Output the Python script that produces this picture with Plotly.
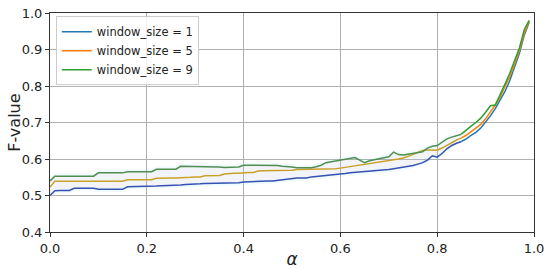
import plotly.graph_objects as go
import numpy as np

# alpha grid (0.00 .. 0.99)
alpha = [round(i * 0.01, 2) for i in range(100)]

f_w1 = [0.500, 0.513, 0.514, 0.514, 0.514, 0.520, 0.520, 0.520, 0.520, 0.520,
        0.517, 0.517, 0.517, 0.517, 0.517, 0.517, 0.524, 0.524, 0.524, 0.524,
        0.524, 0.524, 0.526, 0.527, 0.527, 0.527, 0.527, 0.529, 0.530, 0.530,
        0.530, 0.532, 0.533, 0.533, 0.533, 0.533, 0.535, 0.535, 0.535, 0.535,
        0.537, 0.538, 0.538, 0.538, 0.540, 0.540, 0.540, 0.542, 0.544, 0.546,
        0.547, 0.548, 0.548, 0.548, 0.551, 0.552, 0.553, 0.555, 0.557, 0.558,
        0.559, 0.560, 0.562, 0.563, 0.564, 0.565, 0.566, 0.567, 0.568, 0.569,
        0.571, 0.573, 0.575, 0.577, 0.579, 0.582, 0.586, 0.590, 0.597, 0.609,
        0.605, 0.615, 0.628, 0.637, 0.643, 0.648, 0.655, 0.665, 0.673, 0.685,
        0.700, 0.718, 0.738, 0.760, 0.785, 0.815, 0.850, 0.890, 0.940, 0.975]

f_w5 = [0.523, 0.539, 0.539, 0.539, 0.539, 0.539, 0.539, 0.539, 0.539, 0.539,
        0.539, 0.539, 0.539, 0.539, 0.539, 0.539, 0.543, 0.543, 0.543, 0.543,
        0.543, 0.543, 0.547, 0.548, 0.548, 0.548, 0.548, 0.548, 0.548, 0.550,
        0.551, 0.551, 0.554, 0.555, 0.555, 0.555, 0.559, 0.561, 0.561, 0.561,
        0.563, 0.563, 0.563, 0.567, 0.568, 0.568, 0.568, 0.567, 0.567, 0.567,
        0.569, 0.571, 0.571, 0.571, 0.571, 0.573, 0.573, 0.573, 0.573, 0.573,
        0.575, 0.577, 0.579, 0.580, 0.582, 0.584, 0.586, 0.588, 0.590, 0.592,
        0.595, 0.598, 0.600, 0.603, 0.607, 0.612, 0.618, 0.623, 0.625, 0.625,
        0.624, 0.630, 0.638, 0.645, 0.652, 0.658, 0.665, 0.675, 0.685, 0.695,
        0.710, 0.728, 0.748, 0.770, 0.797, 0.826, 0.860, 0.898, 0.945, 0.978]

f_w9 = [0.540, 0.553, 0.553, 0.553, 0.553, 0.553, 0.553, 0.553, 0.553, 0.553,
        0.562, 0.562, 0.562, 0.562, 0.562, 0.562, 0.565, 0.565, 0.565, 0.565,
        0.565, 0.565, 0.572, 0.572, 0.572, 0.572, 0.572, 0.580, 0.580, 0.580,
        0.580, 0.580, 0.580, 0.580, 0.580, 0.578, 0.577, 0.577, 0.577, 0.578,
        0.583, 0.583, 0.583, 0.583, 0.582, 0.582, 0.582, 0.582, 0.580, 0.580,
        0.578, 0.576, 0.576, 0.576, 0.576, 0.579, 0.583, 0.590, 0.592, 0.594,
        0.596, 0.598, 0.601, 0.604, 0.597, 0.590, 0.595, 0.598, 0.600, 0.603,
        0.606, 0.619, 0.612, 0.611, 0.613, 0.615, 0.617, 0.620, 0.630, 0.635,
        0.637, 0.645, 0.655, 0.660, 0.663, 0.668, 0.680, 0.690, 0.700, 0.712,
        0.728, 0.746, 0.748, 0.775, 0.805, 0.835, 0.868, 0.905, 0.955, 0.980]

labels = ['window_size = 1', 'window_size = 5', 'window_size = 9']
series = [f_w1, f_w5, f_w9]
pure = ['#1f77b4', '#ff7f0e', '#2ca02c']
muted = ['#3552b2', '#c9a128', '#4f8e4f']
split = 85

fig = go.Figure()

# legend entries first (pure colours)
for lab, cp in zip(labels, pure):
    fig.add_trace(go.Scatter(x=[None], y=[None], mode='lines', name=lab,
                             line=dict(color=cp, width=1.5)))

# faint shaded bands around the curves
lo = np.array(f_w1) - 0.008
hi = np.array(f_w9) + 0.008
fig.add_trace(go.Scatter(x=alpha[:split], y=lo[:split], mode='lines', line=dict(width=0),
                         showlegend=False, hoverinfo='skip'))
fig.add_trace(go.Scatter(x=alpha[:split], y=hi[:split], mode='lines', line=dict(width=0),
                         fill='tonexty', fillcolor='rgba(120,220,240,0.10)',
                         showlegend=False, hoverinfo='skip'))
fig.add_trace(go.Scatter(x=alpha[:split], y=f_w1[:split], mode='lines', line=dict(width=0),
                         showlegend=False, hoverinfo='skip'))
fig.add_trace(go.Scatter(x=alpha[:split], y=f_w9[:split], mode='lines', line=dict(width=0),
                         fill='tonexty', fillcolor='rgba(255,160,200,0.08)',
                         showlegend=False, hoverinfo='skip'))

for ys, cp, cm in zip(series, pure, muted):
    fig.add_trace(go.Scatter(x=alpha[:split + 1], y=ys[:split + 1], mode='lines',
                             line=dict(color=cm, width=1.5), showlegend=False))
    fig.add_trace(go.Scatter(x=alpha[split:], y=ys[split:], mode='lines',
                             line=dict(color=cp, width=1.5), showlegend=False))

axis_common = dict(showline=True, linecolor='#333333', linewidth=1, mirror=True,
                   showgrid=True, gridcolor='#b0b0b0', gridwidth=1,
                   ticks='outside', ticklen=4, tickcolor='#333333',
                   tickfont=dict(size=13, color='#222222'), zeroline=False,
                   automargin=False)

fig.update_layout(
    width=550, height=269,
    margin=dict(l=50, r=16, t=13, b=37),
    paper_bgcolor='white', plot_bgcolor='white',
    font=dict(family='DejaVu Sans', color='#222222'),
    xaxis=dict(range=[0, 1], dtick=0.2, tickformat='.1f',
               title=dict(text='<i>α</i>', font=dict(size=17), standoff=2), **axis_common),
    yaxis=dict(range=[0.4, 1.0], dtick=0.1, tickformat='.1f', **axis_common),
    legend=dict(x=0.012, y=0.985, xanchor='left', yanchor='top', traceorder='normal',
                bgcolor='rgba(255,255,255,0.85)', bordercolor='#cccccc', borderwidth=1,
                font=dict(size=11.5), tracegroupgap=0, itemwidth=30),
    annotations=[dict(text='F-value', textangle=-90, xref='paper', yref='paper',
                      x=-0.074, y=0.5, xanchor='center', yanchor='middle',
                      showarrow=False, font=dict(size=16, color='#222222'))],
)

# drop the default page margin so the figure fills the window
fig.write_html("out.html", config={'displayModeBar': False},
               post_script="document.body.style.margin='0';")
